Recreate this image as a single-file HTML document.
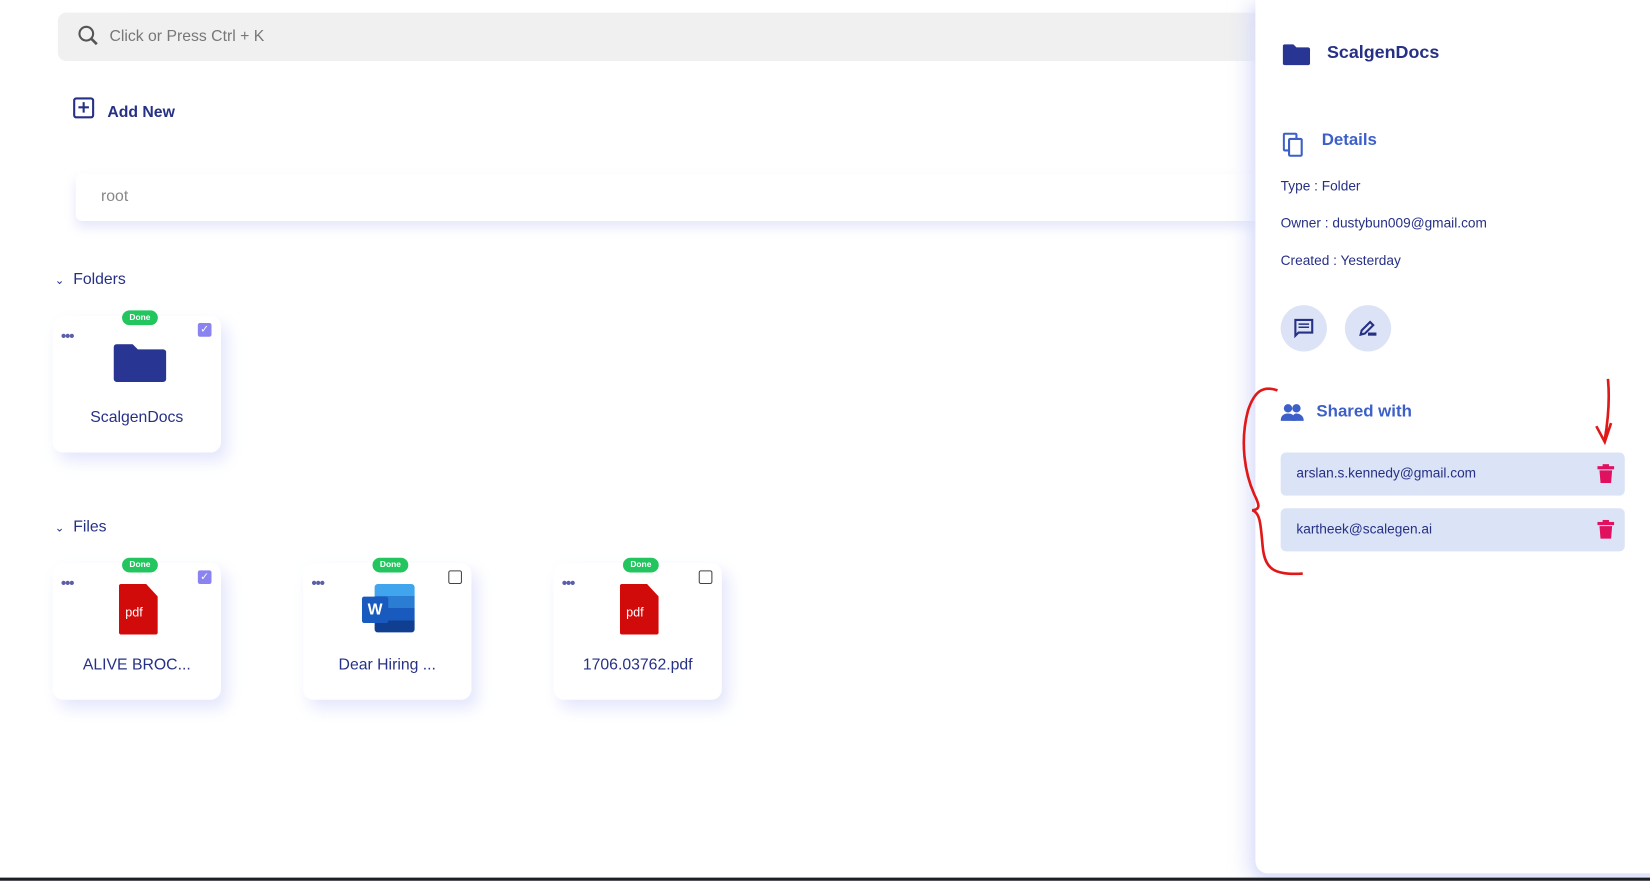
<!DOCTYPE html>
<html><head><meta charset="utf-8"><style>
*{box-sizing:border-box;margin:0;padding:0}
body{width:1650px;height:881px;background:#fff;font-family:"Liberation Sans",sans-serif;color:#263085;position:relative;overflow:hidden}
#root{position:absolute;left:0;top:0;width:1568px;height:837px;transform:scale(1.0523);transform-origin:0 0;overflow:hidden}
.abs{position:absolute}
.search{left:55px;top:12px;width:1160px;height:46px;background:#f0f0f0;border-radius:8px}
.search span{position:absolute;left:49px;top:14px;font-size:15px;color:#777}
.crumb{left:72px;top:165px;width:1140px;height:45px;background:#fff;border-radius:6px;box-shadow:0 6px 10px rgba(200,205,245,.45)}
.crumb span{position:absolute;left:24px;top:13px;font-size:15px;color:#888}
.card{width:160px;height:130px;background:#fff;border-radius:10px;box-shadow:6px 8px 14px rgba(210,215,250,.6)}
.done{position:absolute;left:66px;top:-5px;width:34px;height:14px;background:#22c55e;border-radius:7px;color:#fff;font-size:8px;font-weight:bold;text-align:center;line-height:14px}
.dots{position:absolute;left:8px;top:11px;font-size:14px;color:#5b5fa8;letter-spacing:-1px;font-weight:bold}
.chk{position:absolute;left:138px;top:7px;width:13px;height:13px;border:1.5px solid #444;border-radius:2px;background:#fff}
.chk.on{background:#8b83f0;border-color:#8b83f0;color:#fff;font-size:10px;line-height:11px;text-align:center}
.name{position:absolute;left:0;width:160px;top:88px;text-align:center;font-size:15px;color:#263085}
.pdf{position:absolute;left:63px;top:20px;width:37px;height:48px;background:#d10a0a;border-radius:2px;clip-path:polygon(0 0,70% 0,100% 25%,100% 100%,0 100%)}
.pdf b{position:absolute;left:6px;top:20px;color:#fff;font-size:12px;font-weight:normal}
.panel{left:1193px;top:0;width:452px;height:830px;background:#fff;border-radius:0 0 12px 12px;box-shadow:-8px 4px 18px rgba(215,220,250,.7),0 6px 10px rgba(215,220,250,.7)}
.ptxt{position:absolute;font-size:13px;color:#263085}
.circ{position:absolute;width:44px;height:44px;border-radius:50%;background:#dce3f6}
.share{position:absolute;left:24px;width:327px;height:41px;background:#dbe3f6;border-radius:5px}
.share span{position:absolute;left:15px;top:12px;font-size:13px;color:#263085}
.trash{position:absolute;right:10px;top:11px;width:16px;height:18px}
</style></head><body>
<div id="root">
<div class="abs search">
<svg class="abs" style="left:18px;top:11px" width="22" height="22" viewBox="0 0 22 22"><circle cx="9" cy="9" r="6.5" fill="none" stroke="#555" stroke-width="2"/><line x1="14" y1="14" x2="19" y2="19" stroke="#555" stroke-width="2.5"/></svg>
<span>Click or Press Ctrl + K</span></div>
<div class="abs" style="left:69px;top:92px">
<svg width="22" height="22" viewBox="0 0 22 22"><rect x="1.5" y="1.5" width="18" height="18" rx="2" fill="none" stroke="#263085" stroke-width="2"/><line x1="10.5" y1="5" x2="10.5" y2="15" stroke="#263085" stroke-width="2"/><line x1="5.5" y1="10" x2="15.5" y2="10" stroke="#263085" stroke-width="2"/></svg>
<span class="abs" style="left:33px;top:6px;white-space:nowrap;font-size:15px;font-weight:bold">Add New</span></div>
<div class="abs crumb"><span>root</span></div>
<div class="abs" style="left:52px;top:257px;font-size:15px"><span style="font-size:11px">&#8964;</span>&nbsp; Folders</div>
<div class="abs card" style="left:50px;top:300px">
<div class="done">Done</div><div class="dots">•••</div><div class="chk on">✓</div>
<svg class="abs" style="left:58px;top:27px" width="50" height="36" viewBox="0 0 50 36"><path d="M3 0h15l5 5h24a3 3 0 0 1 3 3v25a3 3 0 0 1-3 3H3a3 3 0 0 1-3-3V3a3 3 0 0 1 3-3z" fill="#283593"/></svg>
<div class="name">ScalgenDocs</div></div>
<div class="abs" style="left:52px;top:492px;font-size:15px"><span style="font-size:11px">&#8964;</span>&nbsp; Files</div>
<div class="abs card" style="left:50px;top:535px">
<div class="done">Done</div><div class="dots">•••</div><div class="chk on">✓</div>
<div class="pdf"><b>pdf</b></div><div class="name">ALIVE BROC...</div></div>
<div class="abs card" style="left:288px;top:535px">
<div class="done">Done</div><div class="dots">•••</div><div class="chk"></div>
<div class="abs" style="left:68px;top:20px;width:38px;height:46px;background:linear-gradient(#41a5ee 0 25%,#2b7cd3 25% 50%,#185abd 50% 75%,#103f91 75%);border-radius:3px"></div>
<div class="abs" style="left:56px;top:32px;width:25px;height:25px;background:#185abd;border-radius:2px;color:#fff;font-weight:bold;font-size:15px;text-align:center;line-height:25px">W</div>
<div class="name">Dear Hiring ...</div></div>
<div class="abs card" style="left:526px;top:535px">
<div class="done">Done</div><div class="dots">•••</div><div class="chk"></div>
<div class="pdf"><b>pdf</b></div><div class="name">1706.03762.pdf</div></div>

<div class="abs panel">
<svg class="abs" style="left:26px;top:42px" width="26" height="20" viewBox="0 0 26 20"><path d="M2 0h8l3 3h11a2 2 0 0 1 2 2v13a2 2 0 0 1-2 2H2a2 2 0 0 1-2-2V2a2 2 0 0 1 2-2z" fill="#283593"/></svg>
<div class="ptxt" style="left:68px;top:40px;font-size:17px;font-weight:bold">ScalgenDocs</div>
<svg class="abs" style="left:26px;top:126px" width="20" height="24" viewBox="0 0 20 24"><rect x="1" y="1" width="12" height="16" rx="1" fill="none" stroke="#3d5fc8" stroke-width="2"/><rect x="6" y="6" width="12" height="16" rx="1" fill="#fff" stroke="#3d5fc8" stroke-width="2"/></svg>
<div class="ptxt" style="left:63px;top:125px;font-size:16px;color:#3d5fc8;font-weight:bold">Details</div>
<div class="ptxt" style="left:24px;top:169px">Type : Folder</div>
<div class="ptxt" style="left:24px;top:204px">Owner : dustybun009@gmail.com</div>
<div class="ptxt" style="left:24px;top:240px">Created : Yesterday</div>
<div class="circ" style="left:24px;top:290px"><svg class="abs" style="left:12px;top:12px" width="20" height="20" viewBox="0 0 20 20"><path d="M2 2h16v12H5l-3 3z" fill="none" stroke="#263085" stroke-width="2"/><line x1="5" y1="6" x2="15" y2="6" stroke="#263085" stroke-width="1.5"/><line x1="5" y1="9" x2="15" y2="9" stroke="#263085" stroke-width="1.5"/></svg></div>
<div class="circ" style="left:85px;top:290px"><svg class="abs" style="left:12px;top:12px" width="20" height="20" viewBox="0 0 20 20"><path d="M3 16l1-4 8-8 3 3-8 8z" fill="none" stroke="#263085" stroke-width="2"/><rect x="10" y="14" width="8" height="3" fill="#263085"/></svg></div>
<svg class="abs" style="left:24px;top:383px" width="22" height="18" viewBox="0 0 22 18"><circle cx="7" cy="5" r="4" fill="#3d5fc8"/><circle cx="15" cy="5" r="4" fill="#3d5fc8"/><path d="M0 17c0-5 3-7 7-7s7 2 7 7z" fill="#3d5fc8"/><path d="M11 17c0-4 1-7 4-7s7 2 7 7z" fill="#3d5fc8"/></svg>
<div class="ptxt" style="left:58px;top:383px;font-size:16px;color:#3d5fc8;font-weight:bold">Shared with</div>
<div class="share" style="top:430px"><span>arslan.s.kennedy@gmail.com</span>
<svg class="trash" viewBox="0 0 16 18"><rect x="0" y="2" width="16" height="3" fill="#e0115f"/><rect x="5" y="0" width="6" height="3" fill="#e0115f"/><path d="M2 6h12l-1 12H3z" fill="#e0115f"/></svg></div>
<div class="share" style="top:483px"><span>kartheek@scalegen.ai</span>
<svg class="trash" viewBox="0 0 16 18"><rect x="0" y="2" width="16" height="3" fill="#e0115f"/><rect x="5" y="0" width="6" height="3" fill="#e0115f"/><path d="M2 6h12l-1 12H3z" fill="#e0115f"/></svg></div>
</div>
<svg class="abs" style="left:0;top:0" width="1568" height="837">
<path d="M1214 371 C1200 366 1192 372 1186 390 C1178 420 1183 450 1192 470 C1197 480 1198 484 1190 485 C1198 487 1198 500 1200 520 C1202 540 1210 547 1238 545" fill="none" stroke="#e01818" stroke-width="2.5"/>
<path d="M1528 360 C1530 380 1528 400 1525 418 M1517 405 L1525 420 L1531 402" fill="none" stroke="#e01818" stroke-width="2.5"/>
</svg>
<div class="abs" style="left:0;top:834px;width:1568px;height:4px;background:#1c1f24"></div>
</div>
</body></html>
